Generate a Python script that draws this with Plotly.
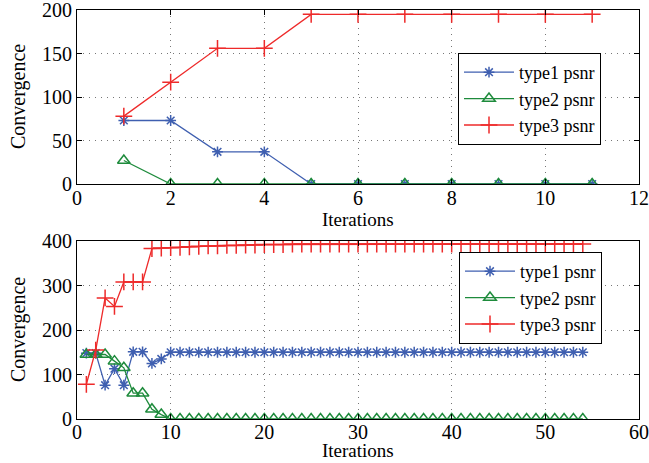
import plotly.graph_objects as go

# ---------------- data ----------------
top_iter = [1, 2, 3, 4, 5, 6, 7, 8, 9, 10, 11]
top_type1 = [73, 73, 37, 37, 0, 0, 0, 0, 0, 0, 0]
top_type2 = [27, 0, 0, 0, 0, 0, 0, 0, 0, 0, 0]
top_type3 = [78, 117, 156, 156, 195, 195, 195, 195, 195, 195, 195]

bot_iter = list(range(1, 55))
bot_type1 = [148, 148, 76, 113, 76, 151, 151, 125, 135, 150,
             150, 150, 150, 150, 150, 150, 150, 150, 150, 150,
             150, 150, 150, 150, 150, 150, 150, 150, 150, 150,
             150, 150, 150, 150, 150, 150, 150, 150, 150, 150,
             150, 150, 150, 150, 150, 150, 150, 150, 150, 150,
             150, 150, 150, 150]
bot_type2 = [145, 145, 145, 130, 115, 58, 58, 22, 10, 0,
             0, 0, 0, 0, 0, 0, 0, 0, 0, 0,
             0, 0, 0, 0, 0, 0, 0, 0, 0, 0,
             0, 0, 0, 0, 0, 0, 0, 0, 0, 0,
             0, 0, 0, 0, 0, 0, 0, 0, 0, 0,
             0, 0, 0, 0]
bot_type3 = [78, 155, 272, 253, 308, 308, 308, 383, 384, 385,
             386, 387, 388, 389, 389, 390, 390, 391, 391, 392,
             392, 392, 393, 393, 393, 393, 393, 393, 393, 393,
             393, 393, 393, 393, 393, 393, 393, 393, 393, 393,
             393, 393, 393, 393, 393, 393, 393, 393, 393, 393,
             393, 393, 393, 393]

series_names = ["type1 psnr", "type2 psnr", "type3 psnr"]
top_x_ticks = [0, 2, 4, 6, 8, 10, 12]
top_y_ticks = [0, 50, 100, 150, 200]
bot_x_ticks = [0, 10, 20, 30, 40, 50, 60]
bot_y_ticks = [0, 100, 200, 300, 400]
x_title = "Iterations"
y_title = "Convergence"

# ---------------- style ----------------
W, H = 649, 463
FONT = "Liberation Serif"
colors = ["#3f5fb0", "#1e8b3c", "#ee2a2a"]
symbols = ["asterisk-open", "triangle-up-open", "cross-thin-open"]
msizes = [9, 11, 12]

def px_x(p):
    return p / W

def px_y(p):
    return 1 - p / H

fig = go.Figure()

for i, (ys, name) in enumerate(zip([top_type1, top_type2, top_type3], series_names)):
    fig.add_trace(go.Scatter(
        x=top_iter, y=ys, name=name, mode="lines+markers",
        line=dict(color=colors[i], width=1.3),
        marker=dict(symbol=symbols[i], size=msizes[i], color=colors[i],
                    line=dict(color=colors[i], width=1.5)),
        xaxis="x", yaxis="y", legend="legend"))

for i, (ys, name) in enumerate(zip([bot_type1, bot_type2, bot_type3], series_names)):
    fig.add_trace(go.Scatter(
        x=bot_iter, y=ys, name=name, mode="lines+markers",
        line=dict(color=colors[i], width=1.3),
        marker=dict(symbol=symbols[i], size=msizes[i], color=colors[i],
                    line=dict(color=colors[i], width=1.5)),
        xaxis="x2", yaxis="y2", legend="legend2"))

axis_common = dict(
    showline=True, linecolor="black", linewidth=1, mirror="ticks",
    ticks="inside", ticklen=5, tickcolor="black", automargin=False,
    ticklabeloverflow="allow",
    showgrid=True, gridcolor="#777777", griddash="1px,5px", gridwidth=1,
    zeroline=False, tickfont=dict(family=FONT, size=20, color="black"),
)

xd = [px_x(77), px_x(639)]
fig.update_layout(
    width=W, height=H,
    margin=dict(l=0, r=0, t=0, b=0, autoexpand=False),
    paper_bgcolor="white", plot_bgcolor="white",
    font=dict(family=FONT, size=20, color="black"),
    xaxis=dict(domain=xd, anchor="y", range=[0, 12], tickvals=top_x_ticks,
               ticklabelstandoff=-4, **axis_common),
    yaxis=dict(domain=[px_y(184), px_y(10)], anchor="x", range=[0, 200], tickvals=top_y_ticks,
               **axis_common),
    xaxis2=dict(domain=xd, anchor="y2", range=[0, 60], tickvals=bot_x_ticks,
                ticklabelstandoff=-5, **axis_common),
    yaxis2=dict(domain=[px_y(419), px_y(241)], anchor="x2", range=[0, 400], tickvals=bot_y_ticks,
                **axis_common),
    legend=dict(x=px_x(458), y=px_y(53), xanchor="left", yanchor="top",
                bgcolor="white", bordercolor="black", borderwidth=1,
                font=dict(family=FONT, size=18), tracegroupgap=0, itemwidth=50),
    legend2=dict(x=px_x(459), y=px_y(252), xanchor="left", yanchor="top",
                 bgcolor="white", bordercolor="black", borderwidth=1,
                 font=dict(family=FONT, size=18), tracegroupgap=0, itemwidth=50),
    showlegend=True,
)

# axis titles placed as annotations for exact positioning
ann_font = dict(family=FONT, size=19, color="black")
cx = px_x((77 + 639) / 2)
fig.add_annotation(text=x_title, xref="paper", yref="paper", x=cx, y=px_y(219),
                   xanchor="center", yanchor="middle", showarrow=False, font=ann_font)
fig.add_annotation(text=x_title, xref="paper", yref="paper", x=cx, y=0,
                   xanchor="center", yanchor="bottom", showarrow=False, font=ann_font)
for ypix in ((10 + 184) / 2, (241 + 419) / 2):
    fig.add_annotation(text=y_title, xref="paper", yref="paper", x=px_x(18), y=px_y(ypix),
                       xanchor="center", yanchor="middle", textangle=-90,
                       showarrow=False, font=dict(family=FONT, size=20, color="black"))

fig.write_html("out.html", config={"displayModeBar": False},
               post_script="document.body.style.margin='0';document.body.style.overflow='hidden';")
